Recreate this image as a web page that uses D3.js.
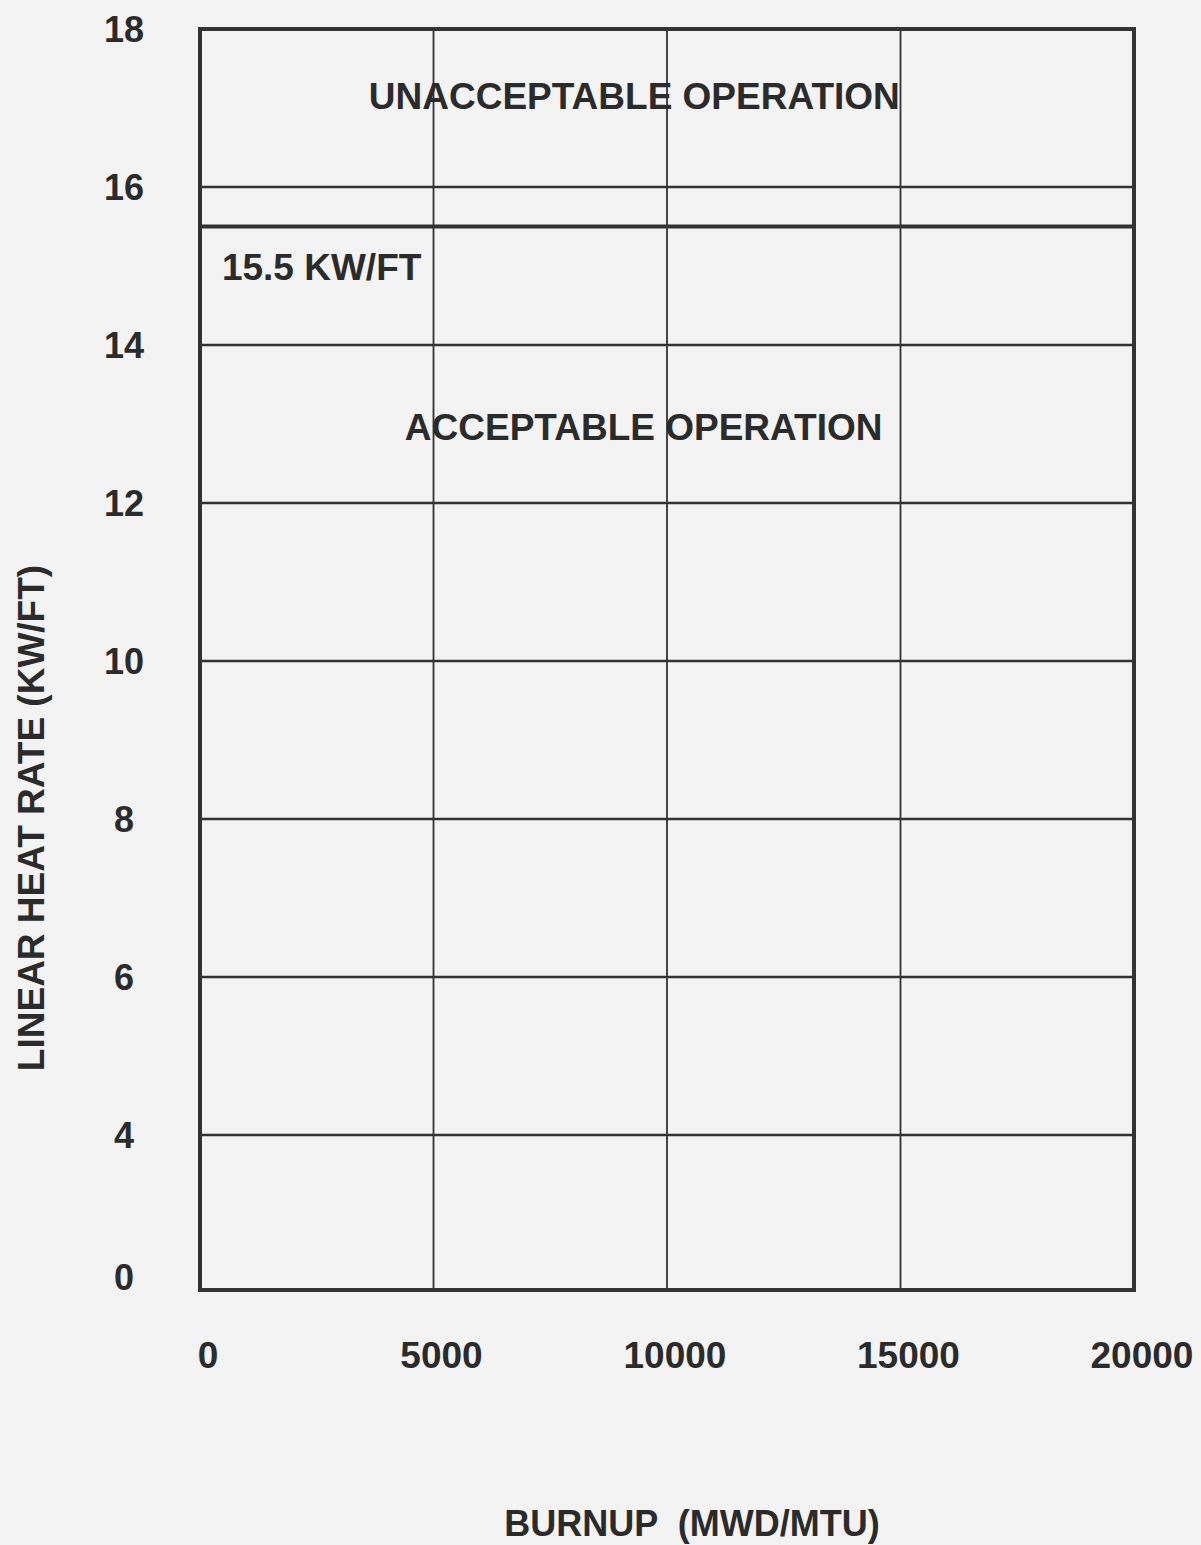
<!DOCTYPE html>
<html><head><meta charset="utf-8">
<script src="https://cdn.jsdelivr.net/npm/d3@7"></script>
<style>
html,body{margin:0;padding:0;background:#f3f3f3;}
svg{display:block;}
text{font-family:"Liberation Sans",Arial,Helvetica,sans-serif;font-weight:bold;fill:#2b2b2b;white-space:pre;}
</style></head>
<body><svg id="c" width="1201" height="1545"></svg>
<script>
// Data
const xTicks = [0, 5000, 10000, 15000, 20000];
const xTickLabels = ["0", "5000", "10000", "15000", "20000"];
const yTicks = [0, 4, 6, 8, 10, 12, 14, 16, 18];
const yTickLabels = ["0", "4", "6", "8", "10", "12", "14", "16", "18"];
const limitValue = [15.5];
const annotations = [
  {text: "UNACCEPTABLE OPERATION", x: 9300, y: 16.99, anchor: "middle"},
  {text: "15.5 KW/FT", x: 470, y: 14.82, anchor: "start"},
  {text: "ACCEPTABLE OPERATION", x: 9500, y: 12.80, anchor: "middle"}
];
const xTitle = "BURNUP  (MWD/MTU)";
const yTitle = "LINEAR HEAT RATE (KW/FT)";

const svg = d3.select("#c");
// Axis has a break: bottom edge is labelled 0 but sits one grid step below 4
const x = d3.scaleLinear().domain([0, 20000]).range([200, 1134]);
const y = d3.scaleLinear().domain([0, 4, 18]).range([1290, 1135, 29]);

const ink = "#333";
const g = svg.append("g");

// horizontal grid lines
g.selectAll("line.h").data(yTicks.filter(d => d !== 0 && d !== 18)).join("line")
  .attr("x1", x(0)).attr("x2", x(20000))
  .attr("y1", d => y(d)).attr("y2", d => y(d))
  .attr("stroke", ink).attr("stroke-width", 2.4);

// vertical grid lines
g.selectAll("line.v").data(xTicks.filter(d => d !== 0 && d !== 20000)).join("line")
  .attr("x1", d => x(d)).attr("x2", d => x(d))
  .attr("y1", y(18)).attr("y2", y(0))
  .attr("stroke", ink).attr("stroke-width", 1.8);

// limit line
g.selectAll("line.lim").data(limitValue).join("line")
  .attr("x1", x(0)).attr("x2", x(20000))
  .attr("y1", d => y(d)).attr("y2", d => y(d))
  .attr("stroke", ink).attr("stroke-width", 4);

// frame
g.append("rect")
  .attr("x", x(0)).attr("y", y(18))
  .attr("width", x(20000) - x(0)).attr("height", y(0) - y(18))
  .attr("fill", "none").attr("stroke", ink).attr("stroke-width", 4);

// y tick labels
svg.append("g").selectAll("text").data(yTicks).join("text")
  .attr("x", 124)
  .attr("y", d => y(d))
  .attr("dy", d => d === 0 ? "0em" : "0.35em")
  .attr("text-anchor", "middle")
  .attr("font-size", 36)
  .text((d, i) => yTickLabels[i]);

// x tick labels
svg.append("g").selectAll("text").data(xTicks).join("text")
  .attr("x", d => x(d) + 8)
  .attr("y", 1368)
  .attr("text-anchor", "middle")
  .attr("font-size", 37)
  .text((d, i) => xTickLabels[i]);

// annotations
svg.append("g").selectAll("text").data(annotations).join("text")
  .attr("x", d => x(d.x)).attr("y", d => y(d.y))
  .attr("text-anchor", d => d.anchor)
  .attr("font-size", 37)
  .text(d => d.text);

// axis titles
svg.append("text")
  .attr("transform", "translate(44,818) rotate(-90)")
  .attr("text-anchor", "middle")
  .attr("font-size", 37)
  .text(yTitle);

svg.append("text")
  .attr("x", 692).attr("y", 1536)
  .attr("text-anchor", "middle")
  .attr("font-size", 36)
  .text(xTitle);
</script>
</body></html>
